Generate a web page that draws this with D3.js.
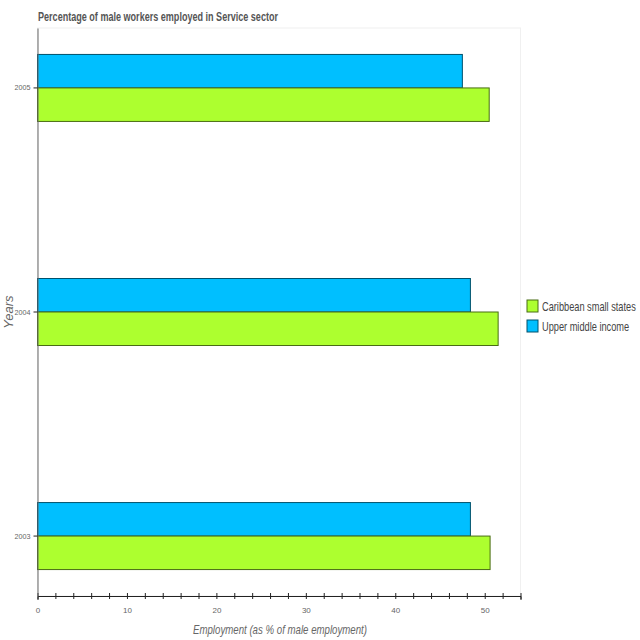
<!DOCTYPE html>
<html><head><meta charset="utf-8">
<script src="https://cdn.jsdelivr.net/npm/d3@7"></script>
<style>
body{margin:0;background:#fff;}
text{font-family:"Liberation Sans",Arial,sans-serif;}
</style></head>
<body><svg id="c" width="640" height="640"></svg>
<script>
const years = ["2005", "2004", "2003"];
const seriesNames = ["Upper middle income", "Caribbean small states"];
const upperMiddle = [47.5, 48.4, 48.4];
const caribbean = [50.5, 51.5, 50.6];
const legendNames = ["Caribbean small states", "Upper middle income"];
const colors = {"Caribbean small states": "#adff2f", "Upper middle income": "#00bfff"};
const xTicks = [0, 10, 20, 30, 40, 50];

const svg = d3.select("#c");
const m = {left: 37.5, top: 28, right: 520.5, bottom: 596};

const x = d3.scaleLinear().domain([0, 54]).range([m.left, m.right]);
const y = d3.scaleBand().domain(years).range([m.top, m.bottom]).paddingInner(0.701).paddingOuter(0.118);
const ySub = d3.scaleBand().domain(seriesNames).range([0, y.bandwidth()]);

// plot background
svg.append("rect").attr("x", m.left).attr("y", m.top).attr("width", m.right - m.left).attr("height", m.bottom - m.top)
  .attr("fill", "#fff").attr("stroke", "#f0f0f0");

const rows = years.map((yr, i) => ({year: yr, vals: [
  {name: "Upper middle income", v: upperMiddle[i]},
  {name: "Caribbean small states", v: caribbean[i]}]}));

const g = svg.append("g");
rows.forEach(r => {
  g.selectAll(null).data(r.vals).enter().append("rect")
    .attr("x", x(0))
    .attr("y", d => y(r.year) + ySub(d.name))
    .attr("width", d => x(d.v) - x(0))
    .attr("height", ySub.bandwidth())
    .attr("fill", d => colors[d.name])
    .attr("stroke", d => d3.color(colors[d.name]).darker(2.4))
    .attr("stroke-width", 1);
});

// x axis
const xAxis = svg.append("g").attr("transform", `translate(0,${m.bottom})`)
  .call(d3.axisBottom(x).tickValues(d3.range(0, 55, 2)).tickSize(4).tickFormat(d => xTicks.includes(d) ? d : ""));
xAxis.select(".domain").attr("stroke", "#222");
xAxis.selectAll(".tick line").attr("stroke", "#222").attr("y1", -3).attr("y2", 3);
xAxis.selectAll(".tick text").attr("fill", "#666").attr("font-size", 8).attr("dy", "1.3em");

// y axis
const yAxis = svg.append("g").attr("transform", `translate(${m.left},0)`)
  .call(d3.axisLeft(y).tickSize(4).tickSizeOuter(0));
yAxis.select(".domain").attr("stroke", "#666");
yAxis.selectAll(".tick line").attr("stroke", "#222");
yAxis.selectAll(".tick text").attr("fill", "#666").attr("font-size", 8)
  .attr("textLength", 16).attr("lengthAdjust", "spacingAndGlyphs");

// title
svg.append("text").attr("x", 38).attr("y", 21).attr("font-size", 12).attr("font-weight", "bold")
  .attr("fill", "#555").attr("textLength", 240).attr("lengthAdjust", "spacingAndGlyphs")
  .text("Percentage of male workers employed in Service sector");

// axis labels
svg.append("text").attr("x", 193).attr("y", 634)
  .attr("font-size", 13).attr("font-style", "italic").attr("fill", "#666")
  .attr("textLength", 174).attr("lengthAdjust", "spacingAndGlyphs")
  .text("Employment (as % of male employment)");
svg.append("text").attr("transform", `translate(13,${(m.top + m.bottom) / 2}) rotate(-90)`)
  .attr("text-anchor", "middle").attr("font-size", 13).attr("font-style", "italic").attr("fill", "#666")
  .text("Years");

// legend
const lg = svg.append("g").attr("transform", "translate(527,300)");
legendNames.forEach((n, i) => {
  lg.append("rect").attr("x", 0).attr("y", i * 20).attr("width", 11).attr("height", 12)
    .attr("fill", colors[n]).attr("stroke", d3.color(colors[n]).darker(2.4));
  lg.append("text").attr("transform", `translate(15,${i * 20 + 10.5}) scale(0.77,1)`)
    .attr("font-size", 12).attr("fill", "#444").text(n);
});
</script></body></html>
